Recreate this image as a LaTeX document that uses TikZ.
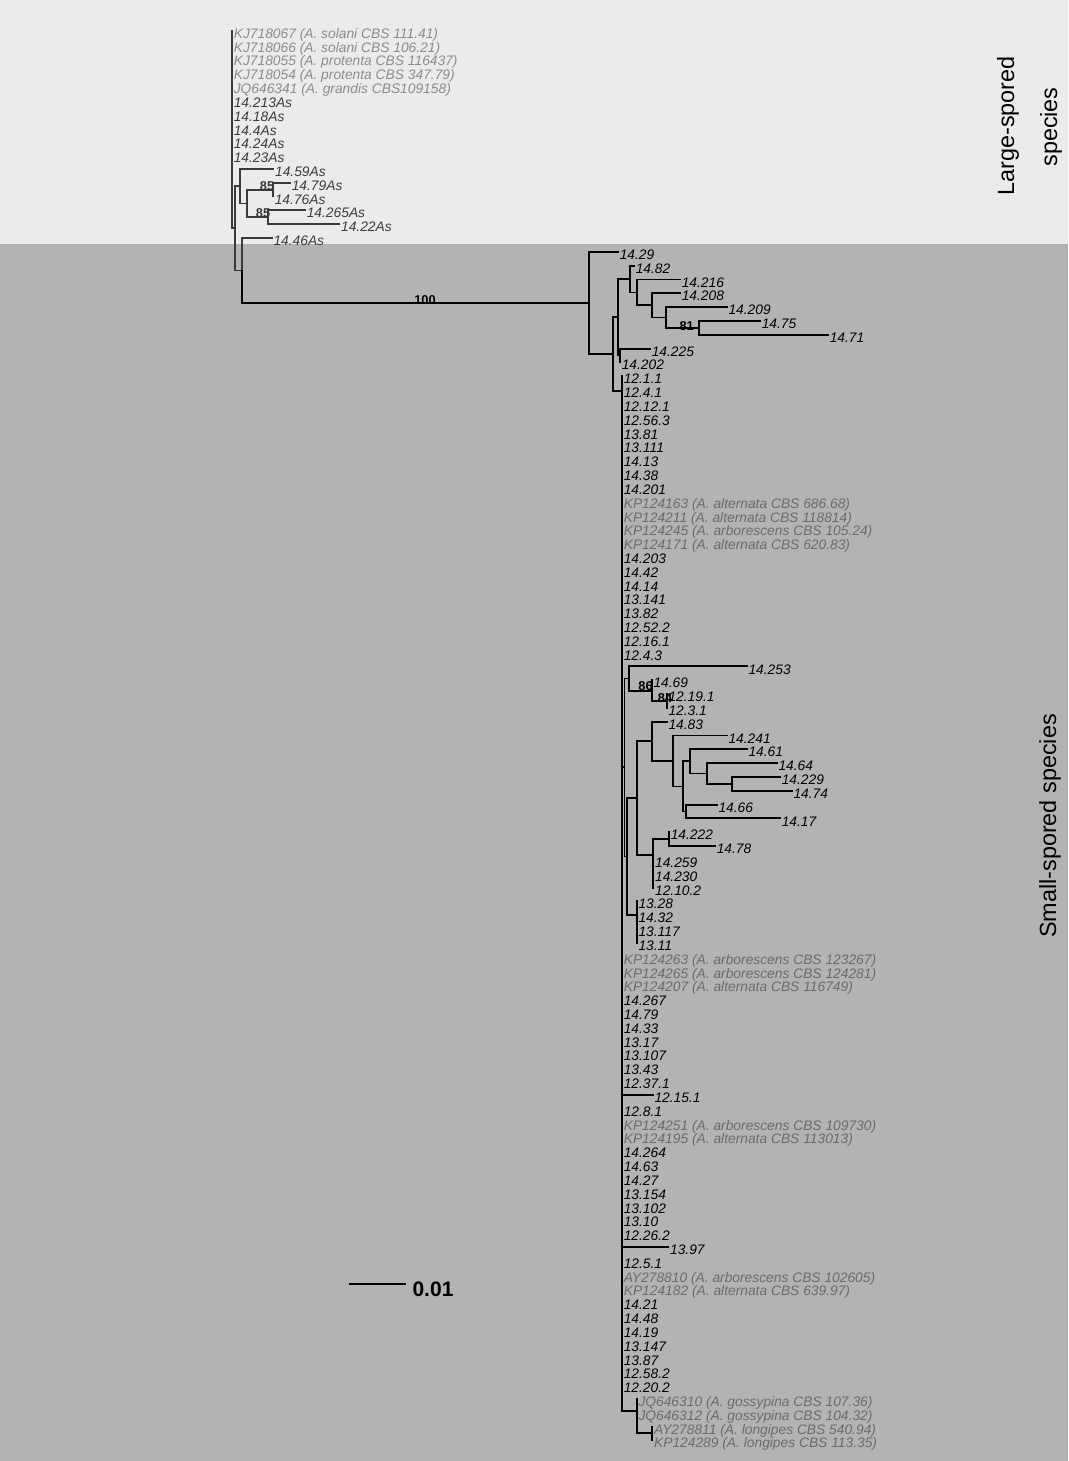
\documentclass[tikz,border=0pt]{standalone}
\usepackage{fontspec}
\setmainfont{Liberation Sans}
\definecolor{bglight}{HTML}{EBEBEB}
\definecolor{bgdark}{HTML}{B3B3B3}
\definecolor{topline}{HTML}{3A3A3A}
\definecolor{toptext}{HTML}{3C3C3C}
\definecolor{topref}{HTML}{8C8C8C}
\definecolor{botref}{HTML}{6B6B6B}
\newcommand\Yof[1]{30.7+(#1-1)*13.82}
\tikzset{
  edge/.style={line width=1.9pt, line cap=rect},
  topedge/.style={edge, draw=topline},
  tiplab/.style={anchor=base west, inner sep=0pt, font=\fontsize{13.8}{14}\selectfont\itshape},
  toplab/.style={text=toptext},
  toprefl/.style={text=topref},
  botlab/.style={text=black},
  botrefl/.style={text=botref},
  bslab/.style={inner sep=0pt, font=\fontsize{12.8}{13}\selectfont\bfseries},
  sidelab/.style={inner sep=0pt, rotate=90, font=\fontsize{23.4}{28}\selectfont}
}
\newcommand\tipat[5]{%
  \coordinate (#1) at (#3,{\Yof{#2}});
  \node[tiplab,#5] (#1l) at ([xshift=1.6pt,yshift=-7.6pt]#1) {#4};}
\begin{document}
\begin{tikzpicture}[x=1pt,y=-1pt]
\path[use as bounding box] (0,0) rectangle (1068,1461);
\fill[bgdark] (0,244) rectangle (1068,1461);
\fill[bglight] (0,0) rectangle (1068,244);

% ---------- internal nodes ----------
\coordinate (P1) at (232,{\Yof{1}});
\coordinate (T)  at (235,{\Yof{15.3}});
\coordinate (S1) at (240,{\Yof{12.25}});
\coordinate (S2) at (246.7,{\Yof{13.5}});
\coordinate (S3) at (273,{\Yof{12.5}});
\coordinate (S4) at (268.3,{\Yof{14.5}});
\coordinate (R)  at (242.3,{\Yof{18.35}});
\coordinate (B)  at (589.3,{\Yof{20.7}});
\coordinate (C)  at (613,{\Yof{24.4}});
\coordinate (D)  at (618.3,{\Yof{21.73}});
\coordinate (F)  at (630,{\Yof{18.97}});
\coordinate (H)  at (637.3,{\Yof{19.94}});
\coordinate (I)  at (651.7,{\Yof{20.875}});
\coordinate (J)  at (666,{\Yof{21.75}});
\coordinate (K)  at (699.3,{\Yof{22.5}});
\coordinate (G)  at (620,{\Yof{24.5}});
\coordinate (E)  at (622,{\Yof{27.07}});
\coordinate (M)  at (624.5,{\Yof{54.3}});
\coordinate (L1) at (629.3,{\Yof{47.875}});
\coordinate (L86) at (651.7,{\Yof{48.75}});
\coordinate (L84) at (666.7,{\Yof{49.5}});
\coordinate (N1) at (627.3,{\Yof{60.75}});
\coordinate (N2) at (636.7,{\Yof{56.5}});
\coordinate (P)  at (651.7,{\Yof{52.42}});
\coordinate (Q)  at (672.7,{\Yof{53.84}});
\coordinate (Rr) at (682.7,{\Yof{55.69}});
\coordinate (S)  at (690,{\Yof{53.875}});
\coordinate (U)  at (706.7,{\Yof{54.75}});
\coordinate (V)  at (731.7,{\Yof{55.5}});
\coordinate (T2) at (686,{\Yof{57.5}});
\coordinate (W)  at (653.3,{\Yof{60.65}});
\coordinate (X)  at (669,{\Yof{59.5}});
\coordinate (N3) at (636.7,{\Yof{65}});
\coordinate (Z)  at (636.7,{\Yof{100.875}});
\coordinate (AA) at (652.3,{\Yof{102.5}});

% ---------- tips: large-spored ----------
\tipat{t1}{1}{232}{KJ718067 (A. solani CBS 111.41)}{toprefl}
\tipat{t2}{2}{232}{KJ718066 (A. solani CBS 106.21)}{toprefl}
\tipat{t3}{3}{232}{KJ718055 (A. protenta CBS 116437)}{toprefl}
\tipat{t4}{4}{232}{KJ718054 (A. protenta CBS 347.79)}{toprefl}
\tipat{t5}{5}{232}{JQ646341 (A. grandis CBS109158)}{toprefl}
\tipat{t6}{6}{232}{14.213As}{toplab}
\tipat{t7}{7}{232}{14.18As}{toplab}
\tipat{t8}{8}{232}{14.4As}{toplab}
\tipat{t9}{9}{232}{14.24As}{toplab}
\tipat{t10}{10}{232}{14.23As}{toplab}
\tipat{t11}{11}{273.3}{14.59As}{toplab}
\tipat{t12}{12}{290}{14.79As}{toplab}
\tipat{t13}{13}{273}{14.76As}{toplab}
\tipat{t14}{14}{305}{14.265As}{toplab}
\tipat{t15}{15}{339.3}{14.22As}{toplab}
\tipat{t16}{16}{271.7}{14.46As}{toplab}

% ---------- tips: small-spored ----------
\tipat{t17}{17}{618}{14.29}{botlab}
\tipat{t18}{18}{634}{14.82}{botlab}
\tipat{t19}{19}{680}{14.216}{botlab}
\tipat{t20}{20}{680}{14.208}{botlab}
\tipat{t21}{21}{726.7}{14.209}{botlab}
\tipat{t22}{22}{760}{14.75}{botlab}
\tipat{t23}{23}{828}{14.71}{botlab}
\tipat{t24}{24}{650}{14.225}{botlab}
\tipat{t25}{25}{620}{14.202}{botlab}
\tipat{t26}{26}{622}{12.1.1}{botlab}
\tipat{t27}{27}{622}{12.4.1}{botlab}
\tipat{t28}{28}{622}{12.12.1}{botlab}
\tipat{t29}{29}{622}{12.56.3}{botlab}
\tipat{t30}{30}{622}{13.81}{botlab}
\tipat{t31}{31}{622}{13.111}{botlab}
\tipat{t32}{32}{622}{14.13}{botlab}
\tipat{t33}{33}{622}{14.38}{botlab}
\tipat{t34}{34}{622}{14.201}{botlab}
\tipat{t35}{35}{622}{KP124163 (A. alternata CBS 686.68)}{botrefl}
\tipat{t36}{36}{622}{KP124211 (A. alternata CBS 118814)}{botrefl}
\tipat{t37}{37}{622}{KP124245 (A. arborescens CBS 105.24)}{botrefl}
\tipat{t38}{38}{622}{KP124171 (A. alternata CBS 620.83)}{botrefl}
\tipat{t39}{39}{622}{14.203}{botlab}
\tipat{t40}{40}{622}{14.42}{botlab}
\tipat{t41}{41}{622}{14.14}{botlab}
\tipat{t42}{42}{622}{13.141}{botlab}
\tipat{t43}{43}{622}{13.82}{botlab}
\tipat{t44}{44}{622}{12.52.2}{botlab}
\tipat{t45}{45}{622}{12.16.1}{botlab}
\tipat{t46}{46}{622}{12.4.3}{botlab}
\tipat{t47}{47}{746.7}{14.253}{botlab}
\tipat{t48}{48}{651.7}{14.69}{botlab}
\tipat{t49}{49}{666.7}{12.19.1}{botlab}
\tipat{t50}{50}{666.7}{12.3.1}{botlab}
\tipat{t51}{51}{666.7}{14.83}{botlab}
\tipat{t52}{52}{726.7}{14.241}{botlab}
\tipat{t53}{53}{746.7}{14.61}{botlab}
\tipat{t54}{54}{776.7}{14.64}{botlab}
\tipat{t55}{55}{780}{14.229}{botlab}
\tipat{t56}{56}{791.7}{14.74}{botlab}
\tipat{t57}{57}{716.7}{14.66}{botlab}
\tipat{t58}{58}{780}{14.17}{botlab}
\tipat{t59}{59}{669}{14.222}{botlab}
\tipat{t60}{60}{715}{14.78}{botlab}
\tipat{t61}{61}{653.3}{14.259}{botlab}
\tipat{t62}{62}{653.3}{14.230}{botlab}
\tipat{t63}{63}{653.3}{12.10.2}{botlab}
\tipat{t64}{64}{636.7}{13.28}{botlab}
\tipat{t65}{65}{636.7}{14.32}{botlab}
\tipat{t66}{66}{636.7}{13.117}{botlab}
\tipat{t67}{67}{636.7}{13.11}{botlab}
\tipat{t68}{68}{622}{KP124263 (A. arborescens CBS 123267)}{botrefl}
\tipat{t69}{69}{622}{KP124265 (A. arborescens CBS 124281)}{botrefl}
\tipat{t70}{70}{622}{KP124207 (A. alternata CBS 116749)}{botrefl}
\tipat{t71}{71}{622}{14.267}{botlab}
\tipat{t72}{72}{622}{14.79}{botlab}
\tipat{t73}{73}{622}{14.33}{botlab}
\tipat{t74}{74}{622}{13.17}{botlab}
\tipat{t75}{75}{622}{13.107}{botlab}
\tipat{t76}{76}{622}{13.43}{botlab}
\tipat{t77}{77}{622}{12.37.1}{botlab}
\tipat{t78}{78}{652.7}{12.15.1}{botlab}
\tipat{t79}{79}{622}{12.8.1}{botlab}
\tipat{t80}{80}{622}{KP124251 (A. arborescens CBS 109730)}{botrefl}
\tipat{t81}{81}{622}{KP124195 (A. alternata CBS 113013)}{botrefl}
\tipat{t82}{82}{622}{14.264}{botlab}
\tipat{t83}{83}{622}{14.63}{botlab}
\tipat{t84}{84}{622}{14.27}{botlab}
\tipat{t85}{85}{622}{13.154}{botlab}
\tipat{t86}{86}{622}{13.102}{botlab}
\tipat{t87}{87}{622}{13.10}{botlab}
\tipat{t88}{88}{622}{12.26.2}{botlab}
\tipat{t89}{89}{668.3}{13.97}{botlab}
\tipat{t90}{90}{622}{12.5.1}{botlab}
\tipat{t91}{91}{622}{AY278810 (A. arborescens CBS 102605)}{botrefl}
\tipat{t92}{92}{622}{KP124182 (A. alternata CBS 639.97)}{botrefl}
\tipat{t93}{93}{622}{14.21}{botlab}
\tipat{t94}{94}{622}{14.48}{botlab}
\tipat{t95}{95}{622}{14.19}{botlab}
\tipat{t96}{96}{622}{13.147}{botlab}
\tipat{t97}{97}{622}{13.87}{botlab}
\tipat{t98}{98}{622}{12.58.2}{botlab}
\tipat{t99}{99}{622}{12.20.2}{botlab}
\tipat{t100}{100}{636.7}{JQ646310 (A. gossypina CBS 107.36)}{botrefl}
\tipat{t101}{101}{636.7}{JQ646312 (A. gossypina CBS 104.32)}{botrefl}
\tipat{t102}{102}{652.3}{AY278811 (A. longipes CBS 540.94)}{botrefl}
\tipat{t103}{103}{652.3}{KP124289 (A. longipes CBS 113.35)}{botrefl}

% ---------- edges: large-spored ----------
\foreach \i in {1,...,10} \draw[topedge] (P1) |- (t\i);
\draw[topedge] (P1) |- (T);
\draw[topedge] (T) |- (S1);
\draw[topedge] (T) |- (R);
\draw[topedge] (S1) |- (t11);
\draw[topedge] (S1) |- (S2);
\draw[topedge] (S2) |- (S3);
\draw[topedge] (S2) |- (S4);
\draw[topedge] (S3) |- (t12);
\draw[topedge] (S3) |- (t13);
\draw[topedge] (S4) |- (t14);
\draw[topedge] (S4) |- (t15);
\draw[topedge] (R) |- (t16);

% ---------- edges: small-spored ----------
\draw[edge] (R) |- (B);
\draw[edge] (B) |- (t17);
\draw[edge] (B) |- (C);
\draw[edge] (C) |- (D);
\draw[edge] (C) |- (E);
\draw[edge] (D) |- (F);
\draw[edge] (D) |- (G);
\draw[edge] (F) |- (t18);
\draw[edge] (F) |- (H);
\draw[edge] (H) |- (t19);
\draw[edge] (H) |- (I);
\draw[edge] (I) |- (t20);
\draw[edge] (I) |- (J);
\draw[edge] (J) |- (t21);
\draw[edge] (J) |- (K);
\draw[edge] (K) |- (t22);
\draw[edge] (K) |- (t23);
\draw[edge] (G) |- (t24);
\draw[edge] (G) |- (t25);
\foreach \i in {26,...,46} \draw[edge] (E) |- (t\i);
\foreach \i in {68,...,79} \draw[edge] (E) |- (t\i);
\foreach \i in {80,...,99} \draw[edge] (E) |- (t\i);
\draw[edge] (E) |- (M);
\draw[edge] (E) |- (Z);
\draw[edge] (M) |- (L1);
\draw[edge] (M) |- (N1);
\draw[edge] (L1) |- (t47);
\draw[edge] (L1) |- (L86);
\draw[edge] (L86) |- (t48);
\draw[edge] (L86) |- (L84);
\draw[edge] (L84) |- (t49);
\draw[edge] (L84) |- (t50);
\draw[edge] (N1) |- (N2);
\draw[edge] (N1) |- (N3);
\draw[edge] (N2) |- (P);
\draw[edge] (N2) |- (W);
\draw[edge] (P) |- (t51);
\draw[edge] (P) |- (Q);
\draw[edge] (Q) |- (t52);
\draw[edge] (Q) |- (Rr);
\draw[edge] (Rr) |- (S);
\draw[edge] (Rr) |- (T2);
\draw[edge] (S) |- (t53);
\draw[edge] (S) |- (U);
\draw[edge] (U) |- (t54);
\draw[edge] (U) |- (V);
\draw[edge] (V) |- (t55);
\draw[edge] (V) |- (t56);
\draw[edge] (T2) |- (t57);
\draw[edge] (T2) |- (t58);
\draw[edge] (W) |- (X);
\foreach \i in {61,62,63} \draw[edge] (W) |- (t\i);
\draw[edge] (X) |- (t59);
\draw[edge] (X) |- (t60);
\foreach \i in {64,...,67} \draw[edge] (N3) |- (t\i);
\draw[edge] (Z) |- (t100);
\draw[edge] (Z) |- (t101);
\draw[edge] (Z) |- (AA);
\draw[edge] (AA) |- (t102);
\draw[edge] (AA) |- (t103);

% ---------- support values ----------
\node[bslab] (b100) at (425,300) {100};
\node[bslab] (b81) at (686.7,326) {81};
\node[bslab] (b86) at (645.5,686) {86};
\node[bslab] (b84) at (665,698) {84};
\node[bslab, text=topline] (b85a) at (267,186) {85};
\node[bslab, text=topline] (b85b) at (263,213) {85};

% ---------- scale bar ----------
\coordinate (sb1) at (349,1284);
\coordinate (sb2) at (406,1284);
\draw[edge, line cap=butt] (sb1) -- (sb2);
\node[inner sep=0pt, font=\fontsize{21}{22}\selectfont\bfseries] (sbl) at (433,1289) {0.01};

% ---------- group labels ----------
\node[sidelab] (lg1) at (1008,126) {Large-spored};
\node[sidelab] (lg2) at (1051,127) {species};
\node[sidelab] (sm) at (1050,826) {Small-spored species};
\end{tikzpicture}
\end{document}
